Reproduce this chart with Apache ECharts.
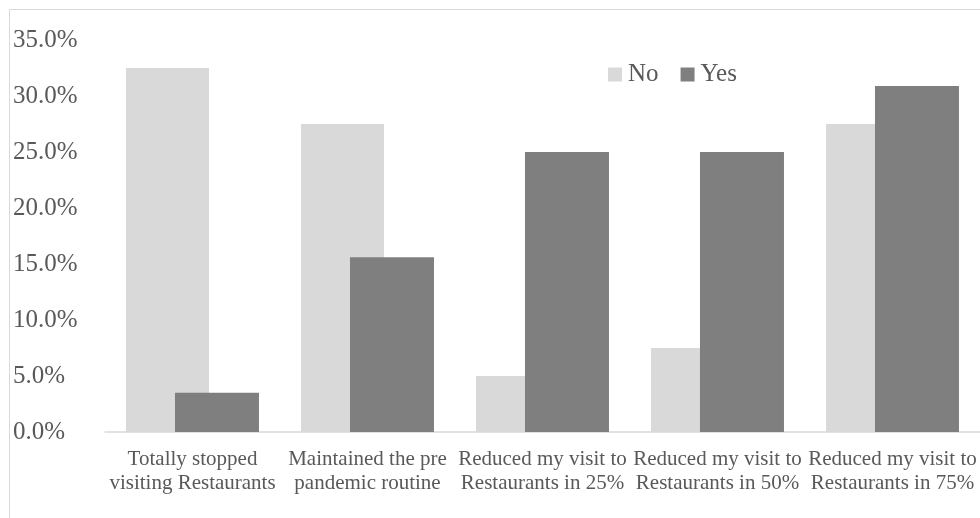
<!DOCTYPE html>
<html>
<head>
<meta charset="utf-8">
<script src="https://cdn.jsdelivr.net/npm/echarts@6/dist/echarts.min.js"></script>
<style>
  html, body { margin: 0; padding: 0; background: #fff; }
  #chart { width: 980px; height: 518px; }
</style>
</head>
<body>
<div id="chart"></div>
<script>
// categories and values (percent)
var categories = [
  'Totally stopped\nvisiting Restaurants',
  'Maintained the pre\npandemic routine',
  'Reduced my visit to\nRestaurants in 25%',
  'Reduced my visit to\nRestaurants in 50%',
  'Reduced my visit to\nRestaurants in 75%'
];
var noValues = [32.5, 27.5, 5.0, 7.5, 27.5];
var yesValues = [3.5, 15.6, 25.0, 25.0, 30.9];

var font = 'Liberation Serif, Times New Roman, serif';
var textColor = '#595959';

var myChart = echarts.init(document.getElementById('chart'));
var options = {
    animation: false,
    grid: {
        left: 105,
        right: 0,
        top: 40,
        bottom: 86
    },
    // chart area border, cut off at right and bottom like the source
    graphic: [{
        type: 'rect',
        shape: { x: 9.5, y: 9.5, width: 1200, height: 800 },
        style: { fill: 'none', stroke: '#d9d9d9', lineWidth: 1 },
        silent: true,
        z: -1
    }],
    legend: {
        left: 608,
        top: 62,
        padding: 0,
        itemWidth: 14,
        itemHeight: 14,
        itemGap: 22,
        icon: 'rect',
        textStyle: {
            fontFamily: font,
            fontSize: 25,
            color: textColor,
            padding: [0, 0, 0, 1]
        },
        data: ['No', 'Yes']
    },
    xAxis: {
        type: 'category',
        data: categories,
        axisTick: { show: false },
        axisLine: {
            lineStyle: { color: '#d9d9d9', width: 1.5 }
        },
        axisLabel: {
            interval: 0,
            margin: 15,
            fontFamily: font,
            fontSize: 21,
            lineHeight: 24,
            color: textColor
        }
    },
    yAxis: {
        type: 'value',
        min: 0,
        max: 35,
        interval: 5,
        axisLine: { show: false },
        axisTick: { show: false },
        splitLine: { show: false },
        axisLabel: {
            align: 'left',
            margin: 92,
            fontFamily: font,
            fontSize: 25,
            color: textColor,
            formatter: function (v) {
                return v.toFixed(1) + '%';
            }
        }
    },
    series: [
        {
            name: 'No',
            type: 'bar',
            barWidth: 83,
            barGap: '-41%',
            itemStyle: { color: '#d9d9d9' },
            data: noValues
        },
        {
            name: 'Yes',
            type: 'bar',
            barWidth: 84,
            itemStyle: { color: '#7f7f7f' },
            data: yesValues
        }
    ]
};
myChart.setOption(options);
</script>
</body>
</html>
